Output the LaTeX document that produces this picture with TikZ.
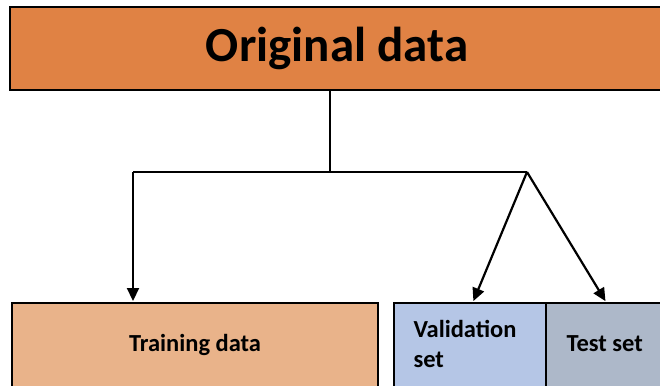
\documentclass[tikz,border=0pt]{standalone}
\usepackage{fontspec}
\setmainfont{Carlito}
\usetikzlibrary{arrows.meta,positioning}

\definecolor{origFill}{HTML}{E08244}
\definecolor{trainFill}{HTML}{E9B38A}
\definecolor{validFill}{HTML}{B5C6E6}
\definecolor{testFill}{HTML}{ADB8C9}

\begin{document}
\begin{tikzpicture}[x=1pt, y=-1pt, >={Triangle[width=12pt,length=13pt]}, line join=miter]

% ---------------- styles ----------------
\tikzset{
  box/.style={draw=black, line width=2pt, inner sep=0pt, font=\bfseries},
  link/.style={line width=2.2pt},
  linkArrow/.style={->, line width=2.2pt, shorten >=1pt}
}

% ---------------- frame ----------------
\useasboundingbox (0,0) rectangle (660,385);
\clip (0,0) rectangle (660,385);

% ---------------- boxes ----------------
\node[box, fill=origFill, minimum width=654pt, minimum height=83pt,
      font=\bfseries\fontsize{49}{58}\selectfont] (orig) at (337,48.5) {Original data};

\node[box, fill=trainFill, minimum width=366pt, minimum height=84pt,
      font=\bfseries\fontsize{24.5}{29}\selectfont] (train) at (195,345) {Training data};

\node[box, fill=validFill, minimum width=152pt, minimum height=84pt] (valid) at (470,345) {};
\node[box, fill=testFill, minimum width=120pt, minimum height=84pt] (test) at (606,345) {};

% labels in the split boxes (left aligned)
\node[anchor=west, align=left, font=\bfseries\fontsize{24.5}{30}\selectfont]
  (validTxt) at (410,344) {Validation\\set};
\node[anchor=west, font=\bfseries\fontsize{24.5}{29}\selectfont]
  (testTxt) at (563,344) {Test set};

% ---------------- connectors ----------------
\coordinate (hub) at (330,172);
\coordinate (lft) at (133,172);
\coordinate (fork) at (527,172);

\draw[link] (hub |- orig.south) -- (hub);
\draw[link] (lft) -- (fork);
\draw[linkArrow] (lft) -- (lft |- train.north);
\draw[linkArrow] (fork) -- ([xshift=3pt]valid.north);
\draw[linkArrow] (fork) -- (test.north);

\end{tikzpicture}
\end{document}
